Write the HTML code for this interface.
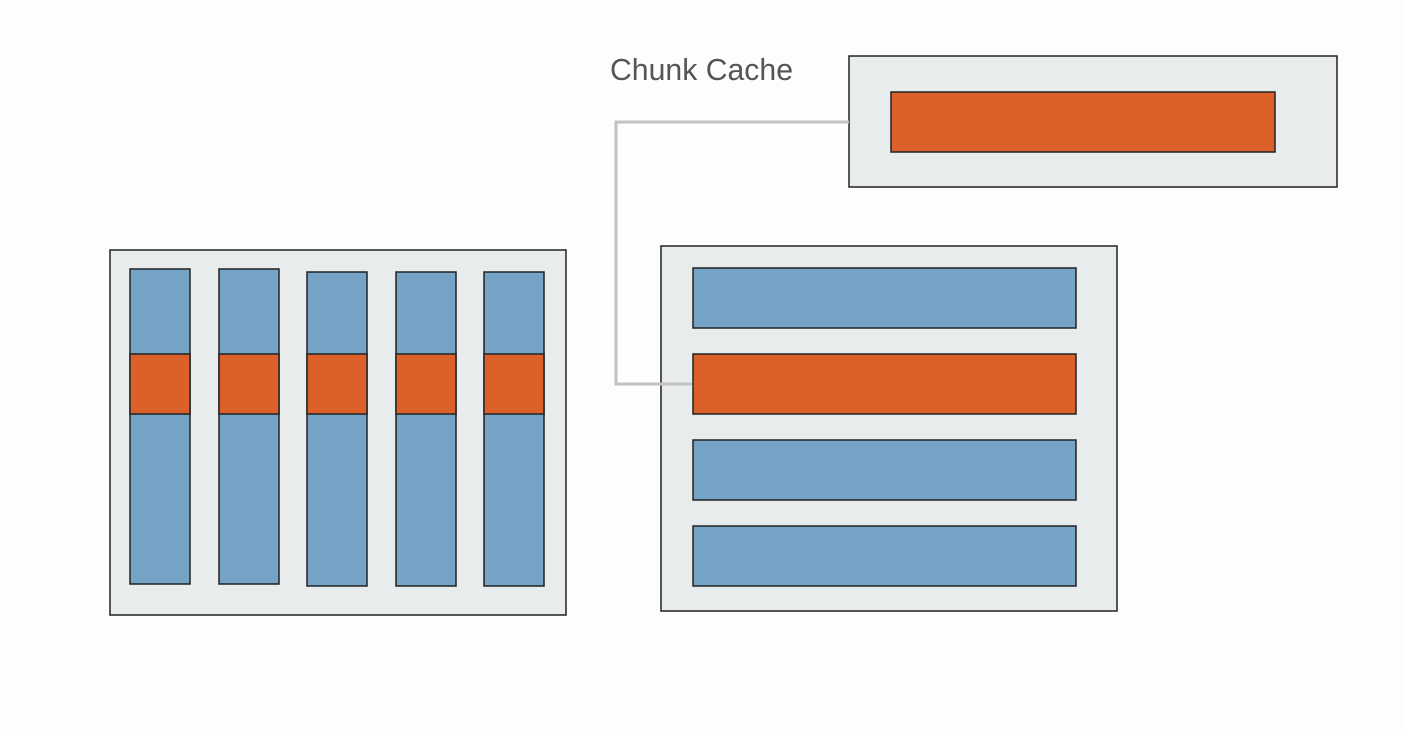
<!DOCTYPE html>
<html><head><meta charset="utf-8"><style>
html,body{margin:0;padding:0;background:#fdfdfd;}
svg{display:block}
</style></head><body>
<svg width="1404" height="730" viewBox="0 0 1404 730">
<rect width="1404" height="730" fill="#fdfdfd"/>
<text x="610" y="80" font-family="Liberation Sans, sans-serif" font-size="31" fill="#555" textLength="183" lengthAdjust="spacingAndGlyphs">Chunk Cache</text>
<g>
<rect x="849" y="56" width="488" height="131" fill="#e8eced" stroke="#222" stroke-width="1.5"/>
<rect x="891" y="92" width="384" height="60" fill="#dc602a" stroke="#222" stroke-width="1.5"/>
</g>
<g>
<rect x="110" y="250" width="456" height="365" fill="#e8eced" stroke="#222" stroke-width="1.5"/>
<g fill="#74a3c6" stroke="#222" stroke-width="1.5">
<rect x="130" y="269" width="60" height="315"/>
<rect x="219" y="269" width="60" height="315"/>
<rect x="307" y="272" width="60" height="314"/>
<rect x="396" y="272" width="60" height="314"/>
<rect x="484" y="272" width="60" height="314"/>
</g>
<g fill="#dc602a" stroke="#222" stroke-width="1.5">
<rect x="130" y="354" width="60" height="60"/>
<rect x="219" y="354" width="60" height="60"/>
<rect x="307" y="354" width="60" height="60"/>
<rect x="396" y="354" width="60" height="60"/>
<rect x="484" y="354" width="60" height="60"/>
</g>
</g>
<g>
<rect x="661" y="246" width="456" height="365" fill="#e8eced" stroke="#222" stroke-width="1.5"/>
<g stroke="#222" stroke-width="1.5">
<rect x="693" y="268" width="383" height="60" fill="#74a3c6"/>
<rect x="693" y="354" width="383" height="60" fill="#dc602a"/>
<rect x="693" y="440" width="383" height="60" fill="#74a3c6"/>
<rect x="693" y="526" width="383" height="60" fill="#74a3c6"/>
</g>
</g>
<polyline points="849,122 616,122 616,384 692,384" fill="none" stroke="#c2c2c2" stroke-width="3"/>
</svg>
</body></html>
